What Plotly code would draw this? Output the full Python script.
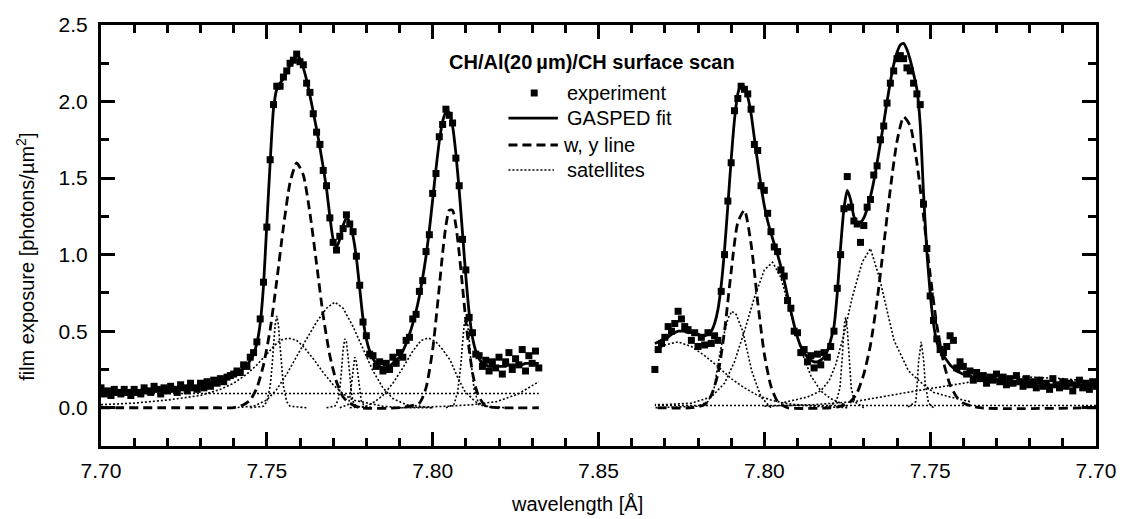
import plotly.graph_objects as go

# ---------------- data (wavelength in Angstrom, exposure in photons/um^2) ----------------
FOLD = 7.85           # the right-hand spectrum is drawn mirrored about this wavelength
WL_START, WL_STEP = 7.700, 0.001

# experimental sampling grids
exp_left_wl = [round(WL_START + WL_STEP * i, 3) for i in range(133)]    # 7.700 .. 7.832
exp_right_wl = [round(WL_START + WL_STEP * i, 3) for i in range(134)]   # 7.700 .. 7.833

exp_left = [
    0.13, 0.09, 0.11, 0.08, 0.12, 0.10, 0.09, 0.12, 0.10, 0.08,
    0.12, 0.10, 0.09, 0.13, 0.11, 0.10, 0.14, 0.12, 0.09, 0.13,
    0.11, 0.14, 0.12, 0.10, 0.15, 0.13, 0.11, 0.16, 0.13, 0.12,
    0.16, 0.13, 0.17, 0.14, 0.18, 0.16, 0.19, 0.17, 0.20, 0.21,
    0.22, 0.24, 0.23, 0.28, 0.27, 0.33, 0.36, 0.43, 0.58, 0.82,
    1.18, 1.62, 1.98, 2.10, 2.10, 2.16, 2.20, 2.25, 2.27, 2.31,
    2.26, 2.24, 2.12, 2.06, 1.92, 1.80, 1.72, 1.55, 1.45, 1.24,
    1.08, 1.03, 1.12, 1.17, 1.26, 1.20, 1.15, 0.99, 0.80, 0.56,
    0.47, 0.35, 0.34, 0.27, 0.30, 0.24, 0.29, 0.25, 0.33, 0.29,
    0.36, 0.33, 0.44, 0.46, 0.58, 0.61, 0.76, 0.83, 1.02, 1.13,
    1.40, 1.53, 1.77, 1.85, 1.95, 1.91, 1.86, 1.63, 1.45, 1.10,
    0.90, 0.59, 0.49, 0.35, 0.34, 0.27, 0.31, 0.24, 0.30, 0.26,
    0.33, 0.22, 0.30, 0.36, 0.25, 0.32, 0.28, 0.38, 0.24, 0.34, 0.29, 0.37, 0.26,
]
fit_left = [
    0.10, 0.10, 0.10, 0.10, 0.11, 0.11, 0.11, 0.11, 0.11, 0.11,
    0.11, 0.11, 0.11, 0.12, 0.12, 0.12, 0.12, 0.12, 0.12, 0.12,
    0.12, 0.12, 0.13, 0.13, 0.13, 0.13, 0.13, 0.14, 0.14, 0.14,
    0.14, 0.15, 0.15, 0.16, 0.16, 0.17, 0.17, 0.18, 0.19, 0.20,
    0.21, 0.22, 0.24, 0.26, 0.28, 0.31, 0.35, 0.42, 0.55, 0.80,
    1.20, 1.60, 1.95, 2.08, 2.12, 2.15, 2.19, 2.24, 2.28, 2.30,
    2.28, 2.22, 2.14, 2.04, 1.93, 1.82, 1.70, 1.57, 1.43, 1.25,
    1.10, 1.05, 1.10, 1.19, 1.24, 1.21, 1.12, 0.98, 0.78, 0.58,
    0.45, 0.37, 0.32, 0.29, 0.27, 0.26, 0.26, 0.27, 0.29, 0.31,
    0.33, 0.37, 0.42, 0.48, 0.55, 0.63, 0.73, 0.85, 0.99, 1.16,
    1.36, 1.56, 1.74, 1.87, 1.93, 1.93, 1.84, 1.66, 1.42, 1.14,
    0.86, 0.62, 0.46, 0.37, 0.32, 0.29, 0.28, 0.27, 0.27, 0.27,
    0.27, 0.27, 0.27, 0.28, 0.28, 0.28, 0.28, 0.28, 0.29, 0.29, 0.29, 0.29, 0.29,
]
exp_right = [
    0.14, 0.17, 0.12, 0.16, 0.13, 0.18, 0.15, 0.11, 0.16, 0.14,
    0.17, 0.13, 0.15, 0.19, 0.12, 0.16, 0.14, 0.18, 0.13, 0.17,
    0.15, 0.19, 0.14, 0.17, 0.21, 0.16, 0.19, 0.15, 0.20, 0.17,
    0.22, 0.18, 0.20, 0.16, 0.21, 0.19, 0.23, 0.18, 0.24, 0.22,
    0.27, 0.30, 0.26, 0.44, 0.47, 0.40, 0.36, 0.38, 0.45, 0.57,
    0.73, 1.04, 1.33, 1.98, 2.05, 2.12, 2.20, 2.22, 2.28, 2.30,
    2.28, 2.20, 2.12, 1.99, 1.84, 1.75, 1.58, 1.52, 1.36, 1.31,
    1.19, 1.08, 1.20, 1.22, 1.31, 1.51, 1.30, 1.00, 0.78, 0.50,
    0.40, 0.33, 0.36, 0.28, 0.35, 0.26, 0.34, 0.30, 0.38, 0.36,
    0.49, 0.50, 0.65, 0.70, 0.86, 0.90, 1.02, 1.05, 1.15, 1.27,
    1.42, 1.45, 1.68, 1.72, 1.95, 2.05, 2.08, 2.10, 2.02, 1.94,
    1.60, 1.35, 1.00, 0.76, 0.44, 0.47, 0.42, 0.49, 0.41, 0.46,
    0.40, 0.49, 0.44, 0.51, 0.53, 0.58, 0.63, 0.55, 0.50, 0.53, 0.46, 0.42, 0.38, 0.25,
]
fit_right = [
    0.15, 0.15, 0.15, 0.15, 0.15, 0.15, 0.15, 0.15, 0.15, 0.15,
    0.15, 0.15, 0.15, 0.15, 0.15, 0.16, 0.16, 0.16, 0.16, 0.16,
    0.16, 0.16, 0.16, 0.17, 0.17, 0.17, 0.17, 0.17, 0.18, 0.18,
    0.18, 0.18, 0.19, 0.19, 0.19, 0.19, 0.20, 0.20, 0.21, 0.22,
    0.22, 0.23, 0.24, 0.26, 0.28, 0.31, 0.34, 0.37, 0.43, 0.55,
    0.75, 1.02, 1.40, 1.85, 2.08, 2.18, 2.27, 2.34, 2.38, 2.37,
    2.32, 2.24, 2.13, 2.00, 1.86, 1.73, 1.60, 1.48, 1.38, 1.30,
    1.24, 1.21, 1.21, 1.25, 1.36, 1.42, 1.30, 1.05, 0.75, 0.53,
    0.44, 0.37, 0.33, 0.31, 0.30, 0.30, 0.31, 0.33, 0.36, 0.40,
    0.46, 0.54, 0.63, 0.73, 0.83, 0.92, 1.00, 1.07, 1.14, 1.22,
    1.32, 1.45, 1.60, 1.76, 1.92, 2.03, 2.09, 2.11, 2.05, 1.88,
    1.62, 1.32, 1.03, 0.80, 0.64, 0.55, 0.50, 0.48, 0.47, 0.47,
    0.48, 0.48, 0.49, 0.49, 0.50, 0.50, 0.50, 0.49, 0.48, 0.46, 0.45, 0.44, 0.43, 0.42,
]

# w, y resonance lines (dashed)
wy_left_wl = [7.700, 7.735, 7.740, 7.743, 7.745, 7.747, 7.749, 7.751, 7.753, 7.755, 7.757,
              7.759, 7.761, 7.763, 7.765, 7.767, 7.769, 7.771, 7.773, 7.775, 7.778, 7.790,
              7.796, 7.798, 7.800, 7.802, 7.803, 7.804, 7.805, 7.806, 7.807, 7.808, 7.809,
              7.810, 7.811, 7.812, 7.813, 7.814, 7.816, 7.820, 7.832]
wy_left = [0.0, 0.0, 0.0, 0.02, 0.05, 0.13, 0.28, 0.51, 0.83, 1.18, 1.47,
           1.60, 1.52, 1.27, 0.94, 0.60, 0.34, 0.17, 0.07, 0.03, 0.0, 0.0,
           0.03, 0.13, 0.38, 0.79, 1.01, 1.19, 1.29, 1.29, 1.19, 1.01, 0.79,
           0.57, 0.38, 0.23, 0.13, 0.07, 0.01, 0.0, 0.0]
wy_right_wl = [7.700, 7.735, 7.740, 7.742, 7.744, 7.746, 7.748, 7.750, 7.752, 7.754, 7.756,
               7.758, 7.760, 7.762, 7.764, 7.766, 7.768, 7.770, 7.772, 7.774, 7.777, 7.780,
               7.793, 7.796, 7.798, 7.800, 7.802, 7.804, 7.806, 7.808, 7.810, 7.812, 7.814,
               7.816, 7.818, 7.822, 7.833]
wy_right = [0.0, 0.0, 0.03, 0.07, 0.15, 0.30, 0.54, 0.87, 1.25, 1.60, 1.84,
            1.90, 1.74, 1.43, 1.06, 0.70, 0.41, 0.22, 0.10, 0.04, 0.01, 0.0,
            0.0, 0.04, 0.14, 0.35, 0.69, 1.07, 1.29, 1.21, 0.89, 0.50, 0.22,
            0.08, 0.02, 0.0, 0.0]

# satellites (dotted), left spectrum
sat_left = [
    ([7.745, 7.749, 7.750, 7.751, 7.7515, 7.752, 7.7525, 7.753, 7.7535, 7.754, 7.7545, 7.755, 7.756, 7.757, 7.762],
     [0.0, 0.01, 0.04, 0.14, 0.25, 0.40, 0.54, 0.60, 0.54, 0.40, 0.25, 0.14, 0.04, 0.01, 0.0]),
    ([7.700, 7.710, 7.720, 7.730, 7.736, 7.740, 7.744, 7.747, 7.750, 7.752, 7.754, 7.7565, 7.759,
      7.761, 7.764, 7.767, 7.770, 7.773, 7.776, 7.780, 7.785, 7.790, 7.800],
     [0.02, 0.03, 0.05, 0.08, 0.12, 0.16, 0.22, 0.28, 0.35, 0.40, 0.44, 0.455, 0.44,
      0.40, 0.32, 0.23, 0.15, 0.09, 0.05, 0.03, 0.01, 0.0, 0.0]),
    ([7.740, 7.746, 7.750, 7.753, 7.756, 7.759, 7.762, 7.765, 7.768, 7.7705, 7.773, 7.776, 7.779,
      7.782, 7.785, 7.788, 7.792, 7.800],
     [0.0, 0.01, 0.05, 0.12, 0.22, 0.34, 0.45, 0.56, 0.65, 0.69, 0.65, 0.53, 0.38,
      0.24, 0.13, 0.06, 0.02, 0.0]),
    ([7.768, 7.7705, 7.7715, 7.772, 7.7725, 7.773, 7.7735, 7.774, 7.7745, 7.775, 7.7755, 7.776, 7.777, 7.780],
     [0.0, 0.01, 0.05, 0.12, 0.24, 0.38, 0.45, 0.43, 0.33, 0.20, 0.10, 0.04, 0.01, 0.0]),
    ([7.772, 7.7745, 7.775, 7.7755, 7.776, 7.7765, 7.777, 7.7775, 7.778, 7.7785, 7.7795, 7.782],
     [0.0, 0.02, 0.06, 0.15, 0.27, 0.33, 0.30, 0.20, 0.10, 0.04, 0.01, 0.0]),
    ([7.775, 7.780, 7.7826, 7.785, 7.788, 7.791, 7.794, 7.7965, 7.7988, 7.801, 7.803, 7.8053,
      7.8075, 7.8096, 7.8128, 7.816, 7.822],
     [0.0, 0.01, 0.04, 0.08, 0.16, 0.26, 0.37, 0.44, 0.455, 0.43, 0.38, 0.31,
      0.20, 0.11, 0.04, 0.01, 0.0]),
    ([7.804, 7.8064, 7.8075, 7.8085, 7.809, 7.8095, 7.810, 7.8105, 7.811, 7.8115, 7.8125, 7.8139, 7.818],
     [0.0, 0.02, 0.10, 0.28, 0.42, 0.54, 0.59, 0.56, 0.45, 0.31, 0.12, 0.02, 0.0]),
    ([7.700, 7.832], [0.093, 0.093]),
    ([7.790, 7.805, 7.812, 7.8193, 7.8258, 7.832], [0.0, 0.01, 0.02, 0.04, 0.09, 0.17]),
]

# satellites (dotted), right spectrum
sat_right = [
    ([7.775, 7.785, 7.790, 7.794, 7.798, 7.802, 7.806, 7.810, 7.814, 7.818, 7.822, 7.826, 7.830, 7.833],
     [0.0, 0.01, 0.02, 0.03, 0.05, 0.08, 0.13, 0.19, 0.27, 0.34, 0.40, 0.43, 0.41, 0.37]),
    ([7.798, 7.801, 7.8038, 7.8065, 7.8085, 7.8098, 7.811, 7.8125, 7.8136, 7.8152, 7.817, 7.820, 7.833],
     [0.0, 0.07, 0.24, 0.50, 0.61, 0.63, 0.58, 0.45, 0.33, 0.12, 0.04, 0.01, 0.0]),
    ([7.775, 7.780, 7.783, 7.786, 7.789, 7.792, 7.795, 7.7975, 7.800, 7.803, 7.806, 7.809,
      7.812, 7.816, 7.822, 7.830, 7.833],
     [0.01, 0.06, 0.11, 0.21, 0.38, 0.62, 0.85, 0.95, 0.90, 0.72, 0.50, 0.30,
      0.16, 0.07, 0.03, 0.02, 0.02]),
    ([7.770, 7.7728, 7.7738, 7.7745, 7.775, 7.7755, 7.776, 7.7765, 7.7772, 7.7783, 7.781],
     [0.0, 0.04, 0.13, 0.33, 0.52, 0.59, 0.52, 0.33, 0.13, 0.04, 0.0]),
    ([7.738, 7.744, 7.7489, 7.752, 7.7565, 7.7609, 7.7652, 7.768, 7.7705, 7.7735, 7.7761,
      7.7785, 7.7804, 7.783, 7.787, 7.795],
     [0.04, 0.07, 0.10, 0.15, 0.24, 0.44, 0.84, 1.04, 0.95, 0.72, 0.47,
      0.28, 0.18, 0.11, 0.07, 0.03]),
    ([7.749, 7.7505, 7.7515, 7.752, 7.7527, 7.7535, 7.754, 7.7543, 7.757],
     [0.0, 0.03, 0.16, 0.32, 0.43, 0.30, 0.13, 0.04, 0.0]),
    ([7.700, 7.710, 7.720, 7.726, 7.7326, 7.740, 7.7543, 7.7728, 7.785, 7.800],
     [0.17, 0.19, 0.20, 0.20, 0.19, 0.16, 0.11, 0.04, 0.02, 0.01]),
    ([7.700, 7.833], [0.015, 0.015]),
]

# axis ticks (axis position -> printed wavelength)
tick_pos = [7.70, 7.75, 7.80, 7.85, 7.90, 7.95, 8.00]
tick_text = ["7.70", "7.75", "7.80", "7.85", "7.80", "7.75", "7.70"]
y_ticks = [0.0, 0.5, 1.0, 1.5, 2.0, 2.5]
X_RANGE = [7.70, 8.00]
Y_RANGE = [-0.25, 2.5]

FONT = "Liberation Sans, Arial, Helvetica, sans-serif"


def left_pos(wl):
    return list(wl)


def right_pos(wl):
    return [round(2 * FOLD - w, 5) for w in wl]


fig = go.Figure()

# experimental points
for pos, vals in ((left_pos(exp_left_wl), exp_left), (right_pos(exp_right_wl), exp_right)):
    fig.add_trace(go.Scatter(x=pos, y=vals, mode="markers",
                             marker=dict(symbol="square", size=7, color="black",
                                         line=dict(width=0)),
                             showlegend=False, hoverinfo="skip"))

# satellites
for group, conv in ((sat_left, left_pos), (sat_right, right_pos)):
    for wl, vals in group:
        fig.add_trace(go.Scatter(x=conv(wl), y=vals, mode="lines",
                                 line=dict(color="black", width=1.6, dash="2px,2px"),
                                 showlegend=False, hoverinfo="skip"))

# w, y lines
for pos, vals in ((left_pos(wy_left_wl), wy_left), (right_pos(wy_right_wl), wy_right)):
    fig.add_trace(go.Scatter(x=pos, y=vals, mode="lines",
                             line=dict(color="black", width=2.8, dash="9px,5px",
                                       shape="spline", smoothing=0.6),
                             showlegend=False, hoverinfo="skip"))

# GASPED fit
for pos, vals in ((left_pos(exp_left_wl), fit_left), (right_pos(exp_right_wl), fit_right)):
    fig.add_trace(go.Scatter(x=pos, y=vals, mode="lines",
                             line=dict(color="black", width=2.8, shape="spline", smoothing=0.6),
                             showlegend=False, hoverinfo="skip"))

fig.update_xaxes(range=X_RANGE, tickvals=tick_pos, ticktext=tick_text,
                 showline=True, linewidth=3, linecolor="black", mirror="ticks",
                 ticks="inside", ticklen=14, tickwidth=3, tickcolor="black",
                 showgrid=False, zeroline=False, ticklabelstandoff=4,
                 tickfont=dict(family=FONT, size=21, color="black"),
                 minor=dict(ticks="inside", ticklen=8, tickwidth=3, tickcolor="black",
                            dtick=0.01, tick0=7.70, showgrid=False))
fig.update_yaxes(range=Y_RANGE, tickvals=y_ticks, ticktext=[f"{v:.1f}" for v in y_ticks],
                 showline=True, linewidth=3, linecolor="black", mirror="ticks",
                 ticks="inside", ticklen=14, tickwidth=3, tickcolor="black",
                 showgrid=False, zeroline=False, ticklabelstandoff=6,
                 tickfont=dict(family=FONT, size=21, color="black"),
                 minor=dict(ticks="inside", ticklen=8, tickwidth=3, tickcolor="black",
                            dtick=0.25, tick0=0, showgrid=False))

# ---- legend drawn by hand (samples + labels), paper coordinates ----
leg_x0, leg_x1, leg_txt = 0.4095, 0.4592, 0.4662
rows = [0.8385, 0.779, 0.715, 0.6556]
shapes = [
    dict(type="rect", xref="paper", yref="paper", x0=0.4319, x1=0.4389,
         y0=rows[0] - 0.0083, y1=rows[0] + 0.0083, fillcolor="black", line=dict(width=0)),
    dict(type="line", xref="paper", yref="paper", x0=leg_x0, x1=leg_x1, y0=rows[1], y1=rows[1],
         line=dict(color="black", width=2.8)),
    dict(type="line", xref="paper", yref="paper", x0=leg_x0, x1=leg_x1, y0=rows[2], y1=rows[2],
         line=dict(color="black", width=2.8, dash="9px,5px")),
    dict(type="line", xref="paper", yref="paper", x0=leg_x0, x1=leg_x1 - 0.004, y0=rows[3], y1=rows[3],
         line=dict(color="black", width=1.6, dash="2px,2px")),
]
leg_labels = ["experiment", "GASPED fit", "w, y line", "satellites"]
annotations = []
for lab, yy in zip(leg_labels, rows):
    annotations.append(dict(text=lab, xref="paper", yref="paper",
                            x=leg_txt if lab != "w, y line" else leg_txt - 0.004, y=yy,
                            xanchor="left", yanchor="middle", showarrow=False,
                            font=dict(family=FONT, size=20, color="black")))
annotations.append(dict(text="<b>CH/Al(20\u2009µm)/CH surface scan</b>", xref="paper", yref="paper",
                        x=0.493, y=0.912, xanchor="center", yanchor="middle", showarrow=False,
                        font=dict(family=FONT, size=20, color="black")))
annotations.append(dict(text="wavelength [Å]", xref="paper", yref="paper",
                        x=0.478, y=-0.138, xanchor="center", yanchor="middle", showarrow=False,
                        font=dict(family=FONT, size=20, color="black")))
annotations.append(dict(text="film exposure [photons/µm<sup>2</sup>]", xref="paper", yref="paper",
                        x=-0.0755, y=0.449, xanchor="center", yanchor="middle", textangle=-90,
                        showarrow=False, font=dict(family=FONT, size=20, color="black")))

fig.update_layout(width=1128, height=519, margin=dict(l=101, r=21, t=25, b=73),
                  paper_bgcolor="white", plot_bgcolor="white",
                  shapes=shapes, annotations=annotations, showlegend=False,
                  font=dict(family=FONT, color="black"))

fig.write_html("out.html")
